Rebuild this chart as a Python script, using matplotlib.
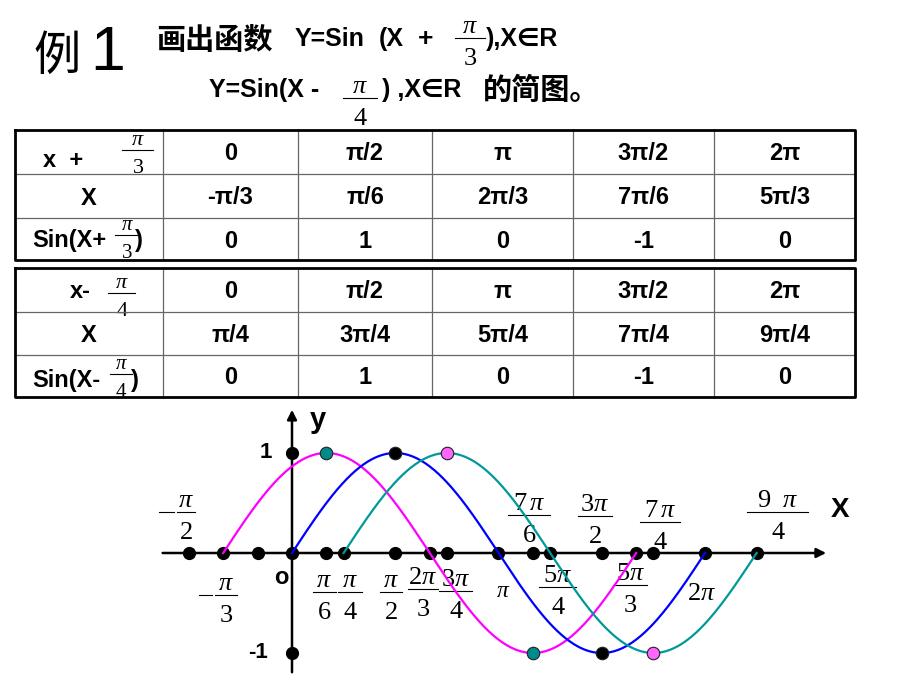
import numpy as np
import matplotlib.pyplot as plt

plt.rcParams["mathtext.fontset"] = "custom"
plt.rcParams["mathtext.rm"] = "Liberation Serif"
plt.rcParams["mathtext.it"] = "Liberation Serif:italic"
plt.rcParams["mathtext.bf"] = "Liberation Sans:bold"

PI = np.pi

# table contents
top_row_1 = ["0", "π/2", "π", "3π/2", "2π"]
x_row_1 = ["-π/3", "π/6", "2π/3", "7π/6", "5π/3"]
y_row_1 = [0, 1, 0, -1, 0]
top_row_2 = ["0", "π/2", "π", "3π/2", "2π"]
x_row_2 = ["π/4", "3π/4", "5π/4", "7π/4", "9π/4"]
y_row_2 = [0, 1, 0, -1, 0]

# y = sin(x + shift), one period each
shifts = [PI / 3, 0.0, -PI / 4]
curve_colors = ["#ff00ff", "#0000ff", "#009999"]
extreme_colors = ["#008b8b", "black", "#ff66ff"]

# black dots on the axes (x in multiples of pi)
axis_dots = [-1/2, -1/3, -1/6, 0, 1/6, 1/4, 1/2, 2/3, 3/4, 1,
             7/6, 5/4, 3/2, 5/3, 7/4, 2, 9/4]
y_dots = [1, -1]

# fraction labels: numerator, denominator, x of bar centre (x pi), y of bar,
# bar width px, leading minus width px
frac_labels = [
    (r"$\pi$", "$2$", -0.513, 0.41, 18, 15),
    (r"$\pi$", "$3$", -0.320, -0.42, 22, 13),
    (r"$\pi$", "$6$", 0.155, -0.39, 23, 0),
    (r"$\pi$", "$4$", 0.281, -0.39, 24, 0),
    (r"$\pi$", "$2$", 0.479, -0.39, 22, 0),
    (r"$2\pi$", "$3$", 0.634, -0.36, 30, 0),
    (r"$3\pi$", "$4$", 0.794, -0.38, 33, 0),
    (r"$5\pi$", "$4$", 1.288, -0.34, 37, 0),
    (r"$5\pi$", "$3$", 1.637, -0.32, 34, 0),
    (r"$7\,\pi$", "$6$", 1.148, 0.38, 42, 0),
    (r"$3\pi$", "$2$", 1.467, 0.37, 34, 0),
    (r"$7\,\pi$", "$4$", 1.782, 0.31, 40, 0),
    (r"$9\ \ \pi$", "$4$", 2.353, 0.41, 61, 0),
]
plain_labels = [(r"$\pi$", 1.022, -0.37, 17), (r"$2\pi$", 1.981, -0.40, 19)]

fig = plt.figure(figsize=(9.2, 6.9), dpi=100)
fig.patch.set_facecolor("white")

# overlay in pixel units for title and tables
pa = fig.add_axes([0, 0, 1, 1])
pa.set_xlim(0, 920)
pa.set_ylim(690, 0)
pa.axis("off")

sans_b = dict(family=["Liberation Sans", "DejaVu Sans"], weight="bold")
cjk = dict(family=["Noto Sans CJK SC", "DejaVu Sans"])


def frac(ax, x, y, num, den, size, width, sx, dn, minus=0, lw=0.8):
    """Stacked fraction with its bar centred on (x, y).
    sx: data units per pixel across, dn: data units per pixel downwards."""
    ax.plot([x - width / 2 * sx, x + width / 2 * sx], [y, y], color="black",
            lw=lw, zorder=1)
    if minus:
        x0 = x - (width / 2 + 3) * sx
        ax.plot([x0 - minus * sx, x0], [y, y], color="black", lw=lw, zorder=1)
    ax.text(x, y - 5 * dn, num, fontsize=size, ha="center", va="baseline", zorder=1)
    ax.text(x, y + 7 * dn, den, fontsize=size, ha="center", va="top", zorder=1)


# title
pa.text(33, 70, "例", fontsize=34, **cjk)
pa.text(90, 70, "1", fontsize=45, family="Liberation Sans")
pa.text(156, 49, "画出函数", fontsize=21, weight="bold", **cjk)
pa.text(295, 46, "Y=Sin", fontsize=18, **sans_b)
pa.text(379, 46, "(X", fontsize=18, **sans_b)
pa.text(418, 46, "+", fontsize=19, **sans_b)
frac(pa, 470, 38, r"$\pi$", "$3$", 19, 30, 1, 1)
pa.text(486, 46, "),X∈R", fontsize=18, **sans_b)
pa.text(209, 97, "Y=Sin(X -", fontsize=18, **sans_b)
frac(pa, 360, 98, r"$\pi$", "$4$", 19, 34, 1, 1)
pa.text(382, 97, ") ,X∈R", fontsize=18, **sans_b)
pa.text(483, 99, "的简图。", fontsize=21, weight="bold", **cjk)

col_edges = [15, 163, 298, 432, 573, 714, 855]


def draw_table(row_edges, rows):
    left, right = col_edges[0], col_edges[-1]
    for y in row_edges[1:-1]:
        pa.plot([left, right], [y, y], color="#666666", lw=0.9)
    for x in col_edges[1:-1]:
        pa.plot([x, x], [row_edges[0], row_edges[-1]], color="#666666", lw=0.9)
    pa.plot([left, right, right, left, left],
            [row_edges[0], row_edges[0], row_edges[-1], row_edges[-1], row_edges[0]],
            color="black", lw=2.0)
    for r, vals in enumerate(rows):
        yc = (row_edges[r] + row_edges[r + 1]) / 2
        for c, v in enumerate(vals):
            xc = (col_edges[c + 1] + col_edges[c + 2]) / 2
            pa.text(xc, yc + 8.5, str(v), fontsize=17, ha="center", va="baseline",
                    **sans_b)


rows1 = [130, 174, 218, 260]
rows2 = [268, 312, 355, 397]
draw_table(rows1, [top_row_1, x_row_1, y_row_1])
draw_table(rows2, [top_row_2, x_row_2, y_row_2])

# row headers
pa.text(43, 167, "x  +", fontsize=17, **sans_b)
frac(pa, 138, 150, r"$\pi$", "$3$", 16, 31, 1, 1)
pa.text(89, 205, "X", fontsize=17, ha="center", **sans_b)
pa.text(32, 247, "Sin(X+", fontsize=17, **sans_b)
frac(pa, 127, 235, r"$\pi$", "$3$", 15, 23, 1, 1)
pa.text(135, 247, ")", fontsize=17, **sans_b)

pa.text(70, 298, "x-", fontsize=17, **sans_b)
frac(pa, 122, 293, r"$\pi$", "$4$", 16, 27, 1, 1)
pa.text(89, 342, "X", fontsize=17, ha="center", **sans_b)
pa.text(32, 387, "Sin(X-", fontsize=17, **sans_b)
frac(pa, 121, 374, r"$\pi$", "$4$", 15, 22, 1, 1)
pa.text(131, 387, ")", fontsize=17, **sans_b)

# graph: 206.5 px per pi, 100 px per unit, origin at pixel (292, 553)
ax = fig.add_axes([150 / 920, 0, 720 / 920, 290 / 690])
ax.set_xlim(-142 / 206.5 * PI, 578 / 206.5 * PI)
ax.set_ylim(-1.37, 1.53)
ax.axis("off")
SX, DN = PI / 206.5, -0.01

ax.annotate("", xy=(2.60 * PI, 0), xytext=(-0.64 * PI, 0),
            arrowprops=dict(arrowstyle="-|>", color="black", lw=1.8, mutation_scale=14))
ax.annotate("", xy=(0, 1.46), xytext=(0, -1.22),
            arrowprops=dict(arrowstyle="-|>", color="black", lw=1.8, mutation_scale=14))

ax.plot(np.array(axis_dots) * PI, np.zeros(len(axis_dots)), "o", color="black",
        ms=8.5, zorder=2)
ax.plot(np.zeros(len(y_dots)), y_dots, "o", color="black", ms=8.5, zorder=2)

for s, c, ec in zip(shifts, curve_colors, extreme_colors):
    x = np.linspace(-s, 2 * PI - s, 400)
    ax.plot(x, np.sin(x + s), color=c, lw=1.6, zorder=3)
    ax.plot([PI / 2 - s, 3 * PI / 2 - s], [1, -1], "o", ms=9, mfc=ec,
            mec="#222222", mew=0.8, zorder=4)

for num, den, xp, yv, w, m in frac_labels:
    frac(ax, xp * PI, yv, num, den, 19, w, SX, DN, minus=m)
for txt, xp, yv, fs in plain_labels:
    ax.text(xp * PI, yv, txt, fontsize=fs, ha="center", va="center", zorder=1)

ax.text(-0.053 * PI, -0.25, "o", fontsize=17, ha="center", va="center", **sans_b)
ax.text(0.126 * PI, 1.33, "y", fontsize=21, ha="center", va="center", **sans_b)
ax.text(2.654 * PI, 0.43, "X", fontsize=20, ha="center", va="center", **sans_b)
ax.text(-0.126 * PI, 1.01, "1", fontsize=16, ha="center", va="center", **sans_b)
ax.text(-0.165 * PI, -1.0, "-1", fontsize=16, ha="center", va="center", **sans_b)

fig.savefig("out.png", dpi=100, facecolor="white")
